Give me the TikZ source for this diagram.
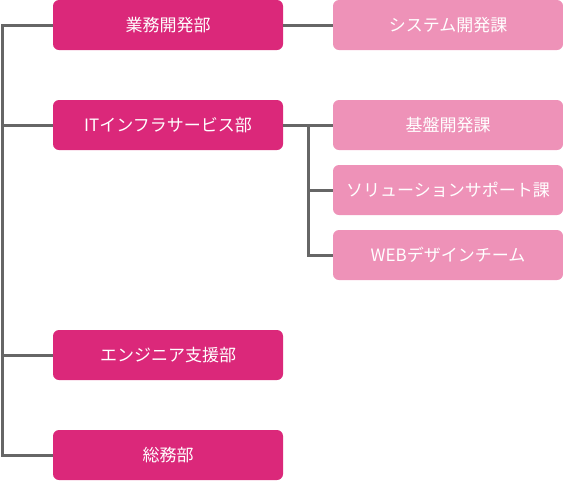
\documentclass[tikz,border=0pt]{standalone}
\usepackage{fontspec}
\setmainfont{Noto Sans CJK JP}
\definecolor{bumon}{RGB}{219,40,122}
\definecolor{ka}{RGB}{238,146,184}
\definecolor{sen}{RGB}{102,102,102}
\begin{document}
\begin{tikzpicture}[x=1pt, y=-1pt,
    dept/.style={fill=bumon, rounded corners=6pt, minimum width=230pt, minimum height=50pt, inner sep=0pt, text=white, font=\fontsize{17}{20}\selectfont},
    sect/.style={dept, fill=ka},
    link/.style={draw=sen, line width=3pt}]
    \useasboundingbox (0,0) rectangle (563,480);
    \node[dept] (gyomu) at (168,25) {業務開発部};
    \node[dept] (infra) at (168,125) {ITインフラサービス部};
    \node[dept] (shien) at (168,355) {エンジニア支援部};
    \node[dept] (somu) at (168,455) {総務部};
    \node[sect] (system) at (448,25) {システム開発課};
    \node[sect] (kiban) at (448,125) {基盤開発課};
    \node[sect] (solution) at (448,190) {ソリューションサポート課};
    \node[sect] (web) at (448,255) {WEBデザインチーム};
    \coordinate (trunk) at (2,25);
    \coordinate (branch) at (308,125);
    \draw[link] (gyomu.west) -- (trunk) -- (somu.west -| trunk) -- (somu.west);
    \draw[link] (infra.west) -- (infra.west -| trunk);
    \draw[link] (shien.west) -- (shien.west -| trunk);
    \draw[link] (gyomu.east) -- (system.west);
    \draw[link] (infra.east) -- (kiban.west);
    \draw[link] (branch) |- (solution.west);
    \draw[link] (branch) |- (web.west);
\end{tikzpicture}
\end{document}
